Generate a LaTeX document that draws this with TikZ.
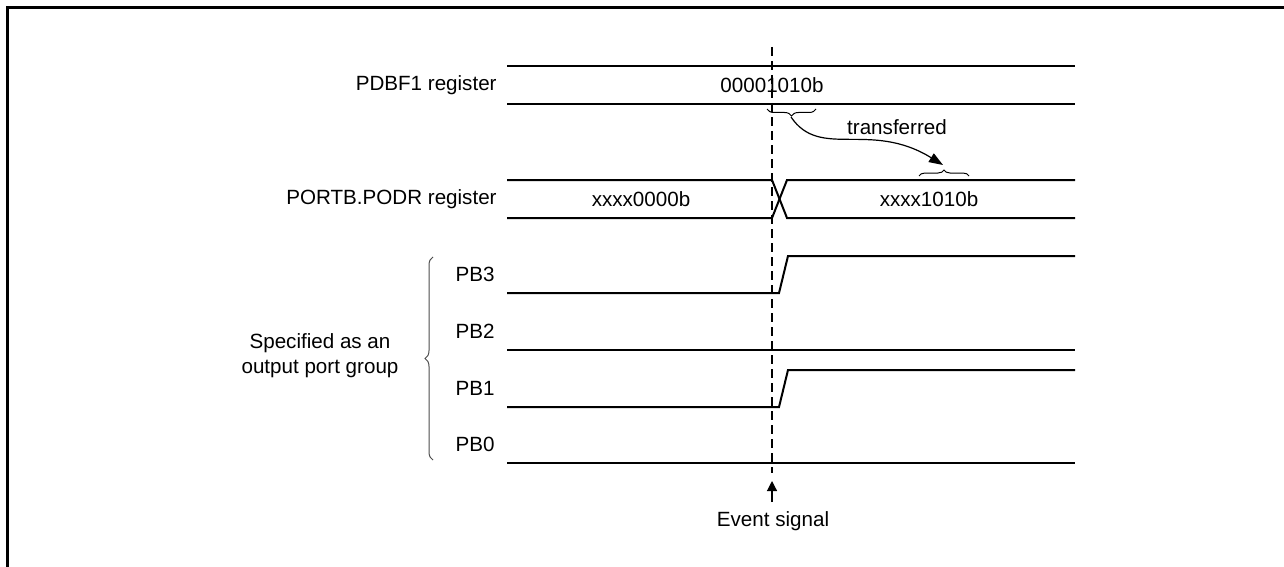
\documentclass[tikz,border=0pt]{standalone}
\usepackage{fontspec}
\setmainfont{Liberation Sans}
\usetikzlibrary{arrows.meta, positioning, decorations.pathreplacing}

\begin{document}
\begin{tikzpicture}[x=0.5pt, y=-0.5pt,
  sigline/.style={line width=1pt},
  evline/.style={line width=1pt, dash pattern=on 4.5pt off 2.5pt},
  lbl/.style={font=\fontsize{10.3}{12.5}\selectfont, inner sep=0pt},
  bracket/.style={decorate, decoration={brace, amplitude=#1}, line width=0.5pt},
  tipped/.style={-{Triangle[length=#1, width=5pt]}, line width=0.6pt}]

  \useasboundingbox (0,0) rectangle (1284,567);

  %% Frame
  \draw[line width=1.5pt] (7.5,567) -- (7.5,7.5) -- (1284,7.5);

  %% PDBF1 register
  \draw[sigline] (507,66) -- (1075,66) (507,104) -- (1075,104);
  \node[lbl, anchor=east] (pdbf) at (497,85) {PDBF1 register};
  \node[lbl] (pdbfval) at (772,85) {00001010b};

  %% PORTB.PODR register
  \draw[sigline] (507,180) -- (772,180) -- (787,218) -- (1075,218);
  \draw[sigline] (507,218) -- (772,218) -- (787,180) -- (1075,180);
  \node[lbl, anchor=east] (podr) at (497,199) {PORTB.PODR register};
  \node[lbl] (podrold) at (641,199) {xxxx0000b};
  \node[lbl] (podrnew) at (929,199) {xxxx1010b};

  %% transferred bits
  \draw[bracket=3.5pt] (816,109) -- (767,109);
  \draw[bracket=3pt] (919,176) -- (969,176);
  \coordinate (bitsrc) at (791,117);
  \coordinate (bitdst) at (943,165);
  \draw[tipped=7pt] (bitsrc) .. controls (820,160) and (870,120) .. (bitdst);
  \node[lbl] (xfer) at (897,127) {transferred};

  %% Port pins: high ones rise after the event
  \foreach \y/\n/\hi in {293/3/1, 350/2/0, 407/1/1, 463/0/0}{
    \node[lbl] (pb\n) at (475,{\y-19}) {PB\n};
    \ifnum\hi=1
      \draw[sigline] (507,\y) -- (779,\y) -- (788,{\y-37}) -- (1075,{\y-37});
    \else
      \draw[sigline] (507,\y) -- (1075,\y);
    \fi
  }
  \draw[bracket=4pt, black!70] (433,460) -- (433,257);
  \node[lbl, align=center] (group) at (320,356) {Specified as an\\output port group};

  %% Event signal
  \coordinate (evtop) at (772,47);
  \coordinate (evbot) at (772,473);
  \draw[evline] (evtop) -- (evbot);
  \node[lbl] (event) at (773,521) {Event signal};
  \coordinate (evfoot) at (772,502);
  \coordinate (evtip) at (772,481);
  \draw[tipped=5pt] (evfoot) -- (evtip);

\end{tikzpicture}
\end{document}
